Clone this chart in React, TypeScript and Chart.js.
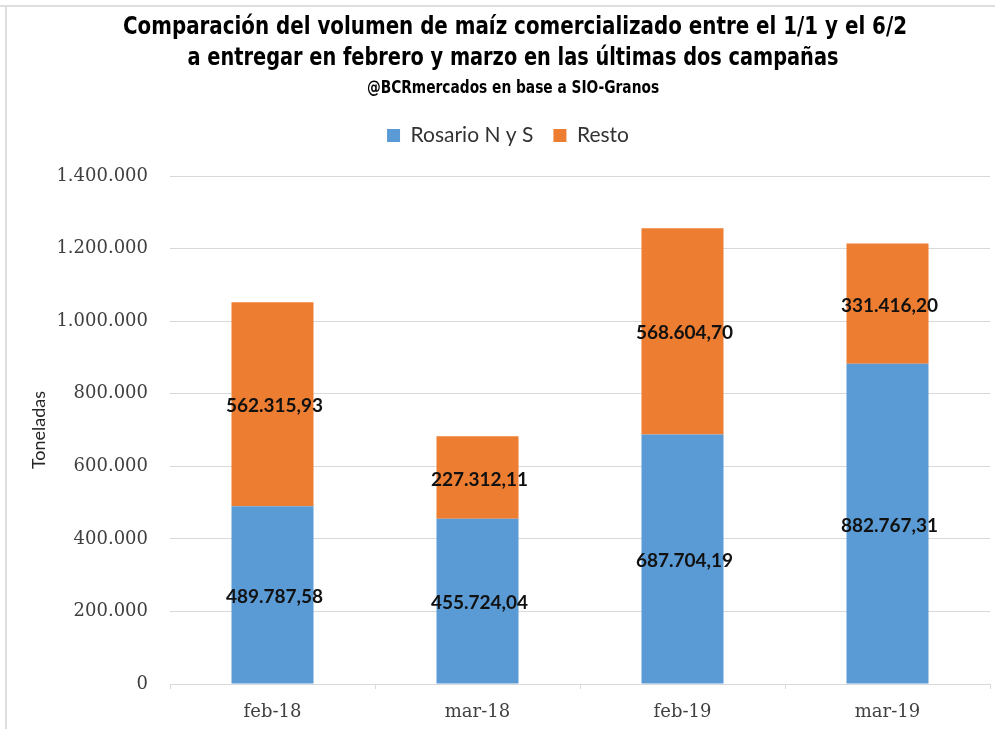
import React, { useEffect, useRef } from 'react';
import { Chart, registerables } from 'chart.js';

Chart.register(...registerables);

const categories = ['feb-18', 'mar-18', 'feb-19', 'mar-19'];
const rosarioValues = [489787.58, 455724.04, 687704.19, 882767.31];
const restoValues = [562315.93, 227312.11, 568604.7, 331416.2];
const seriesNames = ['Rosario N y S', 'Resto'];
const titleLines = [
  'Comparación del volumen de maíz comercializado entre el 1/1 y el 6/2',
  'a entregar en febrero y marzo en las últimas dos campañas',
];
const subtitleText = '@BCRmercados en base a SIO-Granos';
const yAxisTitle = 'Toneladas';
const yMax = 1400000;
const yStep = 200000;

function fmt(n: number, dec: number): string {
  const fixed = n.toFixed(dec);
  const [i, d] = fixed.split('.');
  const ii = i.replace(/\B(?=(\d{3})+(?!\d))/g, '.');
  return d ? ii + ',' + d : ii;
}

function condensedText(ctx: any, text: string, cx: number, baseline: number, sx: number) {
  ctx.save();
  ctx.translate(cx, baseline);
  ctx.scale(sx, 1);
  ctx.fillText(text, 0, 0);
  ctx.restore();
}

const headerPlugin = {
  id: 'header',
  beforeDraw(chart: any) {
    const ctx = chart.ctx;
    ctx.save();
    ctx.fillStyle = '#ffffff';
    ctx.fillRect(0, 0, chart.width, chart.height);
    ctx.fillStyle = '#dedede';
    ctx.fillRect(0, 5, chart.width, 2);
    ctx.fillRect(5, 5, 2, chart.height);
    ctx.fillStyle = '#000000';
    ctx.textAlign = 'center';
    ctx.textBaseline = 'alphabetic';
    ctx.font = 'bold 25px "DejaVu Sans Condensed", "Liberation Sans Narrow", sans-serif';
    condensedText(ctx, titleLines[0], 515, 34, 0.883);
    condensedText(ctx, titleLines[1], 513, 65, 0.86);
    ctx.font = 'bold 17px "DejaVu Sans Condensed", "Liberation Sans Narrow", sans-serif';
    condensedText(ctx, subtitleText, 513, 93, 0.9);
    ctx.restore();
  },
};

const legendSpacer = {
  id: 'legendSpacer',
  beforeLayout(chart: any) {
    const legend = chart.legend;
    if (legend && !legend.__spaced) {
      const orig = legend.fit;
      legend.fit = function () {
        orig.call(this);
        this.height += 20;
      };
      legend.__spaced = true;
    }
  },
};

const valueLabels = {
  id: 'valueLabels',
  afterDatasetsDraw(chart: any) {
    const ctx = chart.ctx;
    ctx.save();
    ctx.fillStyle = '#111111';
    ctx.font = 'bold 19px Lato, "Open Sans", sans-serif';
    ctx.textAlign = 'center';
    ctx.textBaseline = 'middle';
    chart.data.datasets.forEach((ds: any, di: number) => {
      const meta = chart.getDatasetMeta(di);
      meta.data.forEach((bar: any, i: number) => {
        const p = bar.getProps(['x', 'y', 'base'], true);
        ctx.fillText(fmt(ds.data[i], 2), p.x + 2, (p.y + p.base) / 2 + 2);
      });
    });
    ctx.restore();
  },
};

export default function App() {
  const ref = useRef<HTMLCanvasElement | null>(null);

  useEffect(() => {
    if (!ref.current) return;
    const chart = new Chart(ref.current, {
      type: 'bar',
      data: {
        labels: categories,
        datasets: [
          {
            label: seriesNames[0],
            data: rosarioValues,
            backgroundColor: '#5B9BD5',
            barPercentage: 0.4,
            categoryPercentage: 1,
          },
          {
            label: seriesNames[1],
            data: restoValues,
            backgroundColor: '#ED7D31',
            barPercentage: 0.4,
            categoryPercentage: 1,
          },
        ],
      },
      options: {
        animation: false,
        responsive: true,
        maintainAspectRatio: false,
        layout: { padding: { top: 105, left: 26, right: 5, bottom: 7 } },
        plugins: {
          title: { display: false },
          tooltip: { enabled: false },
          legend: {
            display: true,
            position: 'top',
            labels: {
              boxWidth: 13,
              boxHeight: 13,
              padding: 20,
              color: '#333333',
              font: { family: 'Lato, "Open Sans", sans-serif', size: 21 },
            },
          },
        },
        scales: {
          x: {
            stacked: true,
            afterFit(scale: any) {
              scale.height = 38;
            },
            grid: {
              display: true,
              drawOnChartArea: false,
              drawTicks: true,
              tickLength: 5,
              color: '#d9d9d9',
            },
            border: { display: true, color: '#d9d9d9' },
            ticks: {
              color: '#404040',
              padding: 13,
              font: { family: '"DejaVu Serif", serif', size: 18 },
            },
          },
          y: {
            stacked: true,
            min: 0,
            max: yMax,
            afterFit(scale: any) {
              scale.width = 144;
            },
            ticks: {
              stepSize: yStep,
              color: '#404040',
              padding: 22,
              font: { family: '"DejaVu Serif", serif', size: 18 },
              callback: (v: any) => fmt(Number(v), 0),
            },
            grid: { color: '#d9d9d9', drawTicks: false },
            border: { display: false },
            title: {
              display: true,
              text: yAxisTitle,
              color: '#262626',
              padding: { top: 2, bottom: 2 },
              font: { family: 'Lato, "Open Sans", sans-serif', size: 18 },
            },
          },
        },
      },
      plugins: [headerPlugin, legendSpacer, valueLabels],
    } as any);
    return () => chart.destroy();
  }, []);

  return (
    <div style={{ position: 'absolute', left: 0, top: 0, width: 995, height: 729, background: '#fff' }}>
      <canvas ref={ref} />
    </div>
  );
}
